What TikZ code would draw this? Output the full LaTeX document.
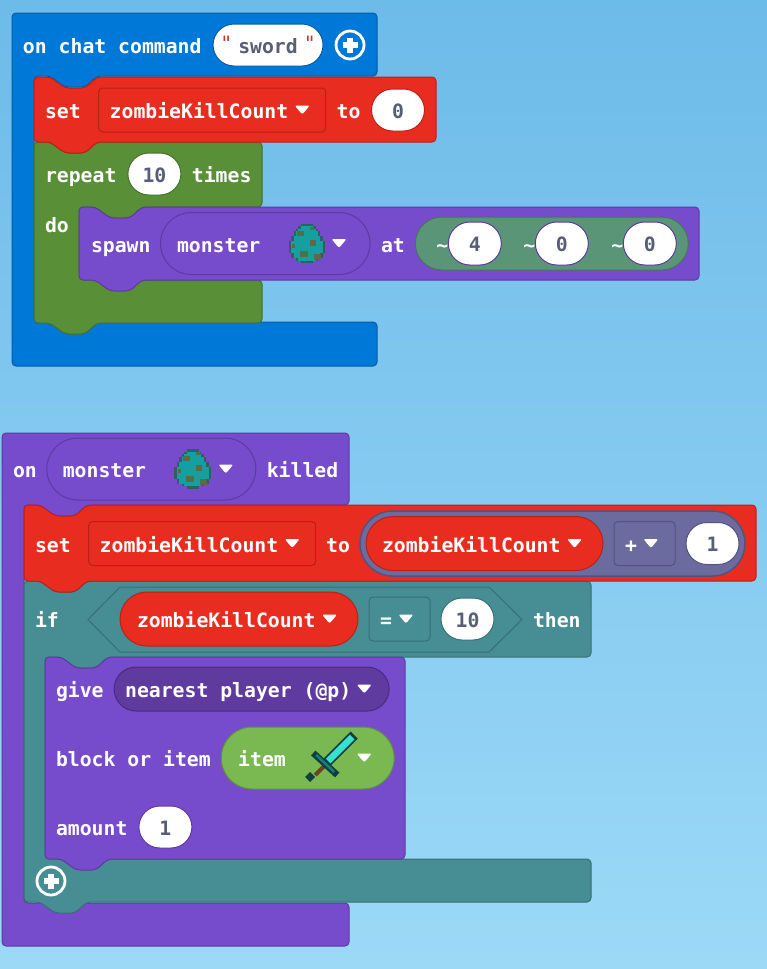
\documentclass[tikz,border=0pt]{standalone}
\usepackage{fontspec}
\usepackage{xcolor}
\usepackage{tikz}
\usetikzlibrary{positioning, shapes.misc}
\newfontfamily\blockfont{DejaVu Sans Mono}
\definecolor{skytop}{HTML}{6DBBE9}
\definecolor{skybottom}{HTML}{9CD9F7}
\definecolor{chatblue}{HTML}{0078D7}
\definecolor{varred}{HTML}{E92C20}
\definecolor{loopgreen}{HTML}{588F37}
\definecolor{mobpurple}{HTML}{764BCC}
\definecolor{ifteal}{HTML}{468E94}
\definecolor{posgreen}{HTML}{5B9577}
\definecolor{mathslate}{HTML}{6B6BA0}
\definecolor{targetpurple}{HTML}{5F3A9F}
\definecolor{itemgreen}{HTML}{7AB852}
\definecolor{valgrey}{HTML}{575E75}
\definecolor{quotered}{HTML}{C0392B}
\definecolor{eggedge}{HTML}{2F5F63}
\definecolor{eggteal}{HTML}{14A0A0}
\definecolor{eggspot}{HTML}{5E6A45}
\definecolor{swordedge}{HTML}{0F3F3E}
\definecolor{swordblade}{HTML}{38E0CE}
\definecolor{swordguard}{HTML}{1A7E7A}
\definecolor{swordgrip}{HTML}{6B4423}
\newcommand{\stackblock}[5]{\draw[blockbody=#1] (#2,#3) -- ++(16,0) -- ++(15,11) -- ++(20,0) -- ++(12,-11) -- (#4,#3) -- (#4,#5) -- (#2+63,#5) -- ++(-12,11) -- ++(-20,0) -- ++(-15,-11) -- (#2,#5) -- cycle;}
\newcommand{\hatblock}[7]{\draw[blockbody=#1] (#2,#3) -- (#4,#3) -- (#4,#5) -- (#2+85,#5) -- ++(-12,11) -- ++(-20,0) -- ++(-15,-11) -- (#2+22,#5) -- (#2+22,#6) -- (#4,#6) -- (#4,#7) -- (#2,#7) -- cycle;}
\newcommand{\loopblock}[8]{\draw[blockbody=#1] (#2,#3) -- ++(16,0) -- ++(15,11) -- ++(20,0) -- ++(12,-11) -- (#4,#3) -- (#4,#5) -- (#8+63,#5) -- ++(-12,11) -- ++(-20,0) -- ++(-15,-11) -- (#8,#5) -- (#8,#6) -- (#4,#6) -- (#4,#7) -- (#2+63,#7) -- ++(-12,11) -- ++(-20,0) -- ++(-15,-11) -- (#2,#7) -- cycle;}
\begin{document}
\begin{tikzpicture}[
    x=1pt, y=-1pt,
    blockbody/.style={fill=#1, draw=#1!78!black, line width=1pt, rounded corners=4pt},
    lbl/.style={rectangle, anchor=west, inner sep=0pt, outer sep=0pt, text=white, text height=21pt, text depth=4pt, font=\blockfont\bfseries\fontsize{19.77}{24}\selectfont},
    valpill/.style={rounded rectangle, fill=white, draw=#1!78!black, line width=1pt, minimum width=53pt, minimum height=42pt, inner sep=0pt, outer sep=0pt, text=valgrey, text height=20.5pt, text depth=4pt, font=\blockfont\bfseries\fontsize{19.77}{24}\selectfont},
    fieldpill/.style={rounded rectangle, fill=#1, draw=#1!78!black, line width=1pt, inner sep=0pt, outer sep=0pt, minimum height=44pt},
    ddbox/.style={rectangle, rounded corners=4pt, fill=#1, draw=#1!78!black, line width=1pt, inner sep=0pt, outer sep=0pt, minimum height=44pt},
    pics/dropdown/.style={code={\fill[white, rounded corners=2pt] (-7.5,-4.5) -- (7.5,-4.5) -- (0,4.5) -- cycle;}},
    pics/addbutton/.style={code={
        \draw[white, line width=2.8pt] (0,0) circle (14);
        \draw[white, line width=6pt] (-7.5,0) -- (7.5,0) (0,-7.5) -- (0,7.5);
    }},
    pics/egg/.style={code={
        \foreach \eggrow/\egghalf in {0/2, 1/3, 2/4, 3/5, 4/5, 5/6, 6/6, 7/7, 8/7, 9/7, 10/7, 11/7, 12/6, 13/6, 14/4, 15/2}
            \fill[eggedge] (-\egghalf*2.45-1.2,\eggrow*2.45-19.6) rectangle (\egghalf*2.45+1.2,\eggrow*2.45-17);
        \foreach \eggrow/\egghalf in {1/2, 2/3, 3/4, 4/4, 5/5, 6/5, 7/6, 8/6, 9/6, 10/6, 11/6, 12/5, 13/5, 14/3}
            \fill[eggteal] (-\egghalf*2.45-1.2,\eggrow*2.45-19.6) rectangle (\egghalf*2.45+1.2,\eggrow*2.45-17);
        \foreach \spotx/\spoty/\spotw/\spoth in {-10/-13/7/5, 3/-4/6/6, -7/7/8/6, 7/10/7/6, -15/0/3/4, 3/-17/4/3}
            \fill[eggspot] (\spotx,\spoty) rectangle ++(\spotw,\spoth);
    }},
    pics/sword/.style={code={
        \draw[swordedge, line width=10pt] (-5,5) -- (23,-23);
        \draw[swordblade, line width=6.5pt] (-3,3) -- (21,-21);
        \draw[swordgrip, line width=4pt] (-5,6) -- (-16,17);
        \draw[swordedge, line width=6.5pt] (-18,-5) -- (6,17);
        \draw[swordguard, line width=2.5pt] (-15,-3) -- (3,14);
        \fill[swordedge] (-21,14) -- (-16,19) -- (-21,24) -- (-26,19) -- cycle;
    }}
]
\fill[top color=skytop, bottom color=skybottom] (0,0) rectangle (767,969);
\useasboundingbox (0,0) rectangle (767,969);

\hatblock{chatblue}{12}{13}{377}{76}{322}{366}
\loopblock{loopgreen}{34}{142}{262}{207}{280}{323}{79}
\stackblock{varred}{34}{77}{436}{142}
\stackblock{mobpurple}{79}{207}{699}{280}

\node[lbl](onchat) at (23,45){on chat command};
\node[valpill=chatblue, minimum width=110pt, right=11.5pt of onchat](swordval){\textcolor{quotered}{\mdseries\raisebox{3pt}{"}}\kern6pt sword\kern6pt\textcolor{quotered}{\mdseries\raisebox{3pt}{"}}};
\pic at ([xshift=27pt]swordval.east) {addbutton};

\node[lbl](setkill) at (45,110){set};
\node[ddbox=varred, minimum width=227pt, right=18pt of setkill](killvar){};
\node[lbl, right=11pt of killvar.west](killname){zombieKillCount};
\pic at ([xshift=14pt]killname.east) {dropdown};
\node[lbl, right=11pt of killvar](setto){to};
\node[valpill=varred, right=11pt of setto](zeroval){0};

\node[lbl](repeatlbl) at (45,174){repeat};
\node[valpill=loopgreen, right=11.5pt of repeatlbl](timesval){10};
\node[lbl, right=11pt of timesval](timeslbl){times};
\node[lbl](dolbl) at (45,223.5){do};

\node[lbl](spawnlbl) at (91,243.5){spawn};
\node[fieldpill=mobpurple, minimum width=209.5pt, minimum height=62pt, right=10pt of spawnlbl](spawnmob){};
\node[lbl, right=16.5pt of spawnmob.west](spawnname){monster};
\pic at ([xshift=-63pt]spawnmob.east) {egg};
\pic at ([xshift=-31pt]spawnmob.east) {dropdown};
\node[lbl, right=11pt of spawnmob](atlbl){at};
\node[fieldpill=posgreen, minimum width=273pt, minimum height=53pt, right=10.5pt of atlbl](pospill){};
\node[valpill=mobpurple, minimum height=43pt, right=33pt of pospill.west](posx){4};
\node[valpill=mobpurple, minimum height=43pt, right=34pt of posx](posy){0};
\node[valpill=mobpurple, minimum height=43pt, right=35pt of posy](posz){0};
\node[lbl, left=0pt of posx](tildex){\textasciitilde};
\node[lbl, left=0pt of posy](tildey){\textasciitilde};
\node[lbl, left=0pt of posz](tildez){\textasciitilde};

\hatblock{mobpurple}{2}{433}{349}{505}{903}{946}
\loopblock{ifteal}{24}{581}{591}{657}{859}{902}{45}
\stackblock{varred}{24}{505}{756}{581}
\stackblock{mobpurple}{45}{657}{405}{859}

\node[lbl](onlbl) at (13,469){on};
\node[fieldpill=mobpurple, minimum width=209pt, minimum height=62pt, right=10pt of onlbl](killedmob){};
\node[lbl, right=16pt of killedmob.west](killedname){monster};
\pic at ([xshift=-63pt]killedmob.east) {egg};
\pic at ([xshift=-30pt]killedmob.east) {dropdown};
\node[lbl, right=11pt of killedmob](killedlbl){killed};

\node[lbl](setsum) at (35,543.5){set};
\node[ddbox=varred, minimum width=227pt, right=18pt of setsum](sumvar){};
\node[lbl, right=11pt of sumvar.west](sumname){zombieKillCount};
\pic at ([xshift=14pt]sumname.east) {dropdown};
\node[lbl, right=10.5pt of sumvar](sumto){to};
\node[fieldpill=mathslate, line width=1.5pt, minimum width=385pt, minimum height=65pt, right=10pt of sumto](mathpill){};
\node[fieldpill=varred, minimum width=237pt, minimum height=54pt, right=6pt of mathpill.west](sumleft){};
\node[lbl, right=16pt of sumleft.west](sumleftname){zombieKillCount};
\pic at ([xshift=14pt]sumleftname.east) {dropdown};
\node[ddbox=mathslate, minimum width=61pt, right=11pt of sumleft](plusbox){};
\node[lbl, right=11pt of plusbox.west](pluslbl){+};
\pic at ([xshift=14pt]pluslbl.east) {dropdown};
\node[valpill=mathslate, right=11pt of plusbox](oneval){1};

\node[lbl](iflbl) at (35,619){if};
\draw[fill=ifteal, draw=ifteal!78!black, line width=1pt] (88,619.5) -- (120,587) -- (489,587) -- (522,619.5) -- (489,652) -- (120,652) -- cycle;
\node[fieldpill=varred, minimum width=238pt, minimum height=54pt, anchor=west](ifvar) at (120,619){};
\node[lbl, right=17pt of ifvar.west](ifname){zombieKillCount};
\pic at ([xshift=14pt]ifname.east) {dropdown};
\node[ddbox=ifteal, minimum width=61pt, right=11pt of ifvar](eqbox){};
\node[lbl, right=11pt of eqbox.west](eqlbl){=};
\pic at ([xshift=14pt]eqlbl.east) {dropdown};
\node[valpill=ifteal, right=11pt of eqbox](tenval){10};
\node[lbl](thenlbl) at (533,619){then};

\node[lbl](givelbl) at (56,689){give};
\node[fieldpill=targetpurple, minimum width=275pt, right=10.5pt of givelbl](targetpill){};
\node[lbl, right=11pt of targetpill.west](targetname){nearest player (@p)};
\pic at ([xshift=13pt]targetname.east) {dropdown};

\node[lbl](itemlbl) at (56,758){block or item};
\node[fieldpill=itemgreen, minimum width=173pt, minimum height=62pt, right=10.5pt of itemlbl](itempill){};
\node[lbl, right=17pt of itempill.west](itemname){item};
\pic at ([xshift=-63pt]itempill.east) {sword};
\pic at ([xshift=-30pt]itempill.east) {dropdown};

\node[lbl](amountlbl) at (56,827){amount};
\node[valpill=mobpurple, right=11.5pt of amountlbl](amountval){1};

\pic at (51,881) {addbutton};
\end{tikzpicture}
\end{document}
